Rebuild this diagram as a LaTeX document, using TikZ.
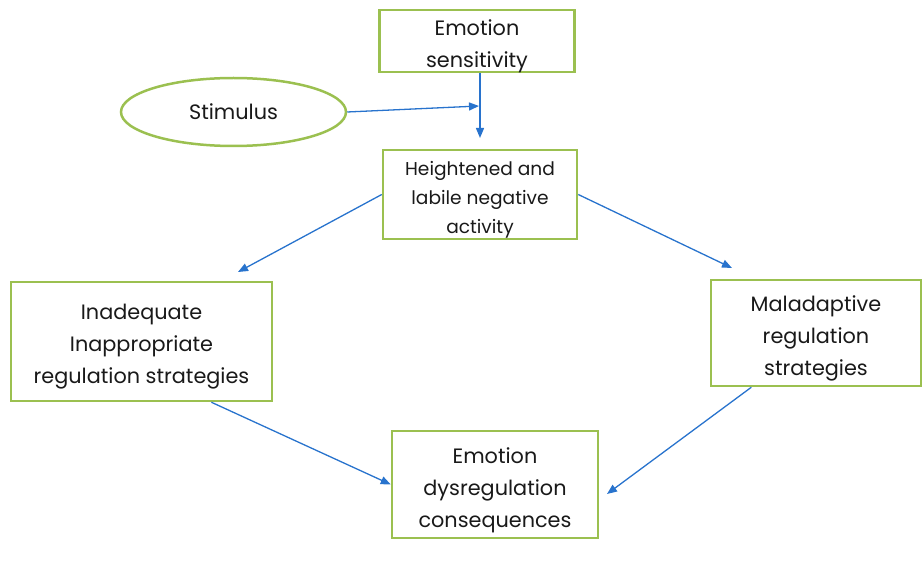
\documentclass[tikz,border=0pt]{standalone}
\usepackage{fontspec}
\setmainfont{Poppins}
\usepackage{xcolor}
\usetikzlibrary{shapes.geometric, arrows.meta, positioning}
\definecolor{boxgreen}{RGB}{155,192,80}
\definecolor{linkblue}{RGB}{40,115,205}
\definecolor{inkcolor}{RGB}{25,25,25}
\newcommand{\topgap}{\rule{0pt}{28pt}}
\newcommand{\botgap}{\rule[-7pt]{0pt}{7pt}}

\begin{document}
\begin{tikzpicture}[
    x=1pt, y=-1pt,
    box/.style={draw=boxgreen, line width=2.5pt, inner xsep=0pt, inner ysep=-6pt, align=center, text=inkcolor,
        font=\fontsize{20.8}{32}\selectfont},
    link/.style={-{Triangle[length=10pt, width=8pt]}, draw=linkblue, line width=1.3pt}
]
    \useasboundingbox (0,0) rectangle (922,569);

    % States
    \node[box, minimum width=195pt, minimum height=62pt] (sens) at (477,41) {\topgap Emotion\\sensitivity\botgap};
    \node[box, ellipse, inner sep=0pt, minimum width=225pt, minimum height=68pt] (stim) at (233.5,112) {Stimulus};
    \node[box, minimum width=194pt, minimum height=89pt, font=\fontsize{18.6}{29}\selectfont] (heigh) at (480,194.5) {\topgap Heightened and\\labile negative\\activity\botgap};
    \node[box, minimum width=261pt, minimum height=119pt] (inad) at (141.5,341.5) {\topgap Inadequate\\Inappropriate\\regulation strategies\botgap};
    \node[box, minimum width=210pt, minimum height=106pt] (malad) at (816,333) {\topgap Maladaptive\\regulation\\strategies\botgap};
    \node[box, minimum width=206pt, minimum height=107pt] (dysreg) at (495,484.5) {\topgap Emotion\\dysregulation\\consequences\botgap};

    % Arrow ends
    \coordinate (senstip) at (480,138);
    \coordinate (stimtip) at (479,106);
    \coordinate (lefttip) at (238,272);
    \coordinate (righttip) at (732,268);
    \coordinate (maltip) at (607,494);

    % Transitions
    \draw[link] (sens.south -| senstip) -- (senstip);
    \draw[link] (stim.east) -- (stimtip);
    \draw[link] (heigh.west) -- (lefttip);
    \draw[link] (heigh.east) -- (righttip);
    \draw[link] (inad.-41) -- (dysreg.west);
    \draw[link] (malad.220) -- (maltip);
\end{tikzpicture}
\end{document}
